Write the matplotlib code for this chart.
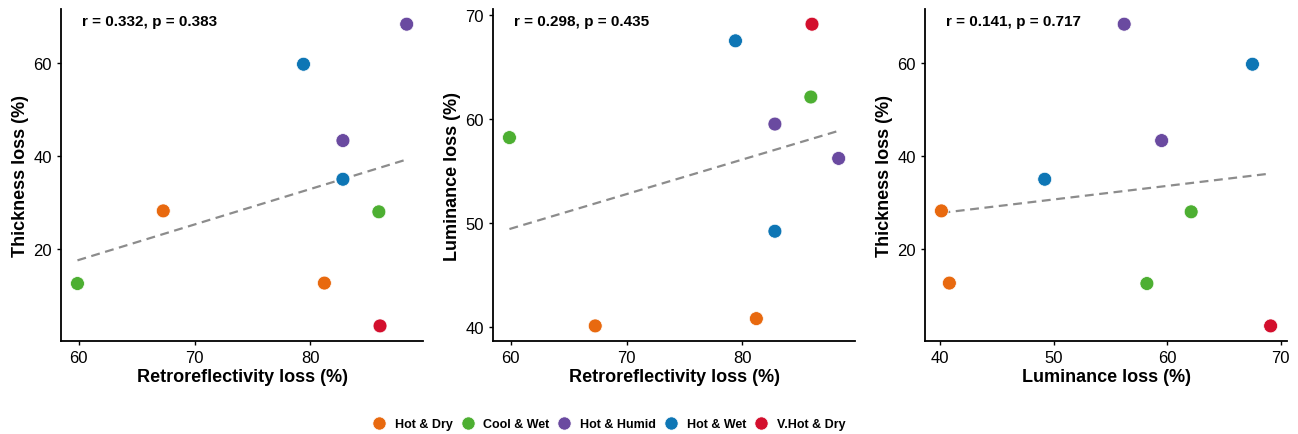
import matplotlib.pyplot as plt
import numpy as np
from matplotlib.lines import Line2D
from matplotlib.ticker import MultipleLocator

plt.rcParams["font.family"] = ["Liberation Sans", "DejaVu Sans"]

# one entry per site
climate = ["Hot & Dry", "Hot & Dry", "Cool & Wet", "Cool & Wet",
           "Hot & Humid", "Hot & Humid", "Hot & Wet", "Hot & Wet", "V.Hot & Dry"]
retro = [67.3, 81.2, 59.9, 85.9, 88.3, 82.8, 79.4, 82.8, 86.0]
thickness = [28.2, 12.7, 12.6, 28.0, 68.3, 43.3, 59.7, 35.0, 3.5]
luminance = [40.1, 40.8, 58.2, 62.1, 56.2, 59.5, 67.5, 49.2, 69.1]

groups = ["Hot & Dry", "Cool & Wet", "Hot & Humid", "Hot & Wet", "V.Hot & Dry"]
colors = ["#E8690F", "#4DAF32", "#6A4AA0", "#0E76B5", "#D30F2D"]

stats = ["r = 0.332, p = 0.383", "r = 0.298, p = 0.435", "r = 0.141, p = 0.717"]

panels = [
    (retro, thickness, "Retroreflectivity loss (%)", "Thickness loss (%)", 10, 20),
    (retro, luminance, "Retroreflectivity loss (%)", "Luminance loss (%)", 10, 10),
    (luminance, thickness, "Luminance loss (%)", "Thickness loss (%)", 10, 20),
]

fig = plt.figure(figsize=(12.98, 4.35), dpi=100)
lefts = [0.047, 0.3798, 0.7126]
cmap = dict(zip(groups, colors))

for i, (xs, ys, xl, yl, xstep, ystep) in enumerate(panels):
    ax = fig.add_axes([lefts[i], 0.2138, 0.279, 0.763])
    xs = np.array(xs)
    ys = np.array(ys)
    # fitted line
    k, b = np.polyfit(xs, ys, 1)
    xx = np.linspace(xs.min(), xs.max(), 50)
    ax.plot(xx, k * xx + b, linestyle=(0, (4, 2.5)), color="#8c8c8c", lw=1.6, zorder=1)
    ax.scatter(xs, ys, c=[cmap[c] for c in climate], s=100, edgecolors="white",
               linewidths=0.5, zorder=2)
    ax.margins(0.05)
    ax.xaxis.set_major_locator(MultipleLocator(xstep))
    ax.yaxis.set_major_locator(MultipleLocator(ystep))
    ax.set_xlabel(xl, fontsize=13, fontweight="bold", labelpad=2)
    ax.set_ylabel(yl, fontsize=13, fontweight="bold", labelpad=3)
    ax.text(0.057, 0.964, stats[i], transform=ax.transAxes, fontsize=11,
            fontweight="bold", va="center", ha="left")
    for s in ["top", "right"]:
        ax.spines[s].set_visible(False)
    for s in ["left", "bottom"]:
        ax.spines[s].set_linewidth(1.3)
    ax.tick_params(labelsize=12, length=3, width=1, colors="black")

handles = [Line2D([], [], marker="o", linestyle="", markersize=9.5,
                  markerfacecolor=c, markeredgecolor="white", markeredgewidth=0.5)
           for c in colors]
fig.legend(handles, groups, loc="center", bbox_to_anchor=(0.468, 0.023), ncol=5,
           frameon=False, prop={"weight": "bold", "size": 9},
           handletextpad=0.5, columnspacing=0.45, handlelength=1.5)

fig.savefig("out.png", dpi=100)
